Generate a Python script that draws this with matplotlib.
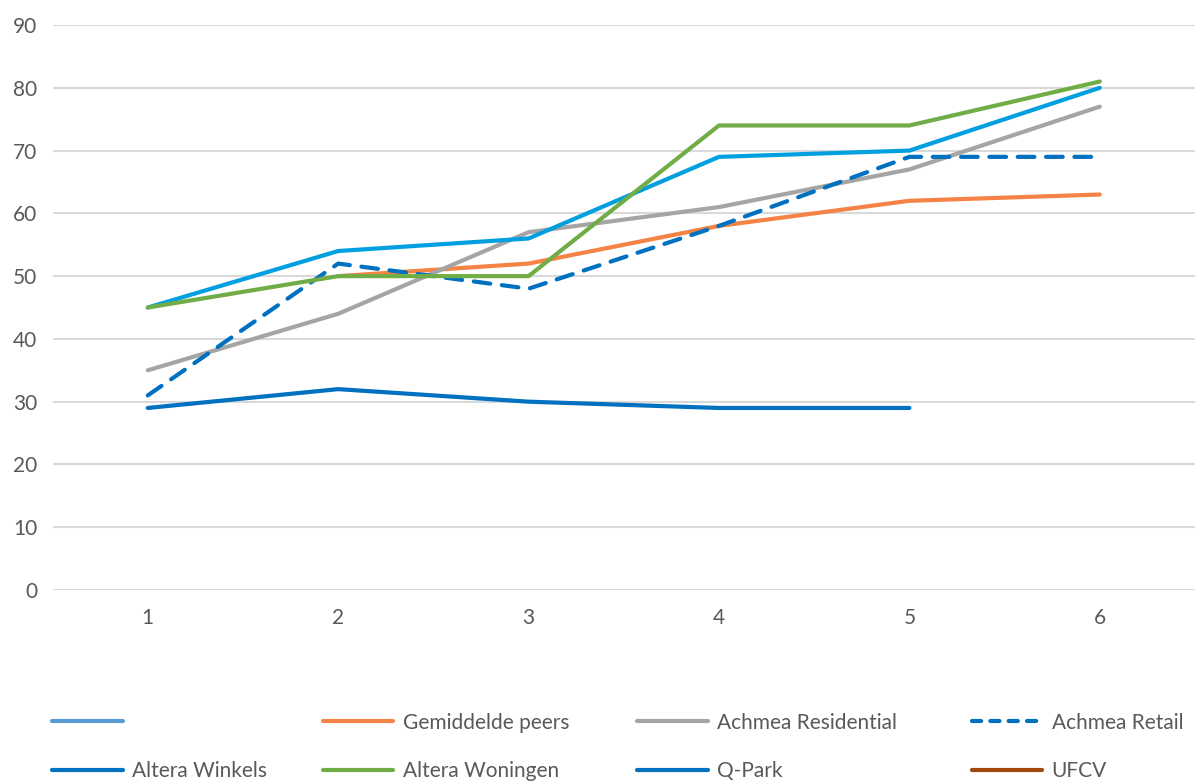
import numpy as np
from matplotlib import pyplot as plt
from matplotlib.lines import Line2D

plt.rcParams['font.family'] = ['Lato', 'DejaVu Sans']

periods = [1, 2, 3, 4, 5, 6]
nan = np.nan

eigen = [45, 54, 56, 69, 70, 80]
gemiddelde_peers = [nan, 50, 52, 58, 62, 63]
achmea_residential = [35, 44, 57, 61, 67, 77]
achmea_retail = [31, 52, 48, 58, 69, 69]
altera_winkels = [29, 32, 30, 29, 29, nan]
altera_woningen = [45, 50, 50, 74, 74, 81]
q_park = [nan, nan, nan, nan, nan, nan]
ufcv = [nan, nan, nan, nan, nan, nan]

fig = plt.figure(figsize=(11.95, 7.82), dpi=100)
ax = fig.add_axes([0.044, 0.2455, 0.956, 0.7225])

x = np.arange(len(periods))
lw = 3
ax.plot(x, gemiddelde_peers, color='#F58345', lw=lw, solid_capstyle='round')
ax.plot(x, achmea_residential, color='#A5A5A5', lw=lw, solid_capstyle='round')
ax.plot(x, altera_winkels, color='#0070C0', lw=lw, solid_capstyle='round')
ax.plot(x, q_park, color='#0070C0', lw=lw, solid_capstyle='round')
ax.plot(x, ufcv, color='#9E480E', lw=lw, solid_capstyle='round')
ax.plot(x, achmea_retail, color='#0070C0', lw=lw, dashes=(4, 2.8), dash_capstyle='round')
ax.plot(x, eigen, color='#009FDF', lw=lw, solid_capstyle='round')
ax.plot(x, altera_woningen, color='#70AD47', lw=lw, solid_capstyle='round')

ax.set_xlim(-0.5, 5.5)
ax.set_ylim(0, 90)
ax.set_yticks(range(0, 91, 10))
ax.set_xticks(x)
ax.set_xticklabels(periods)
ax.grid(axis='y', color='#D9D9D9', lw=1.5)
ax.set_axisbelow(True)
for s in ax.spines.values():
    s.set_visible(False)
ax.tick_params(length=0, labelsize=15, colors='#595959', pad=11)
ax.tick_params(axis='x', pad=13)


def h(color, dashed=False):
    if dashed:
        return Line2D([], [], color=color, lw=lw, dashes=(2.2, 2.2), dash_capstyle='round')
    return Line2D([], [], color=color, lw=lw, solid_capstyle='round')


# one small legend per column, two rows each
columns = [
    (0.0435, [h('#5B9BD5'), h('#0070C0')], ['', 'Altera Winkels']),
    (0.270, [h('#F58345'), h('#70AD47')], ['Gemiddelde peers', 'Altera Woningen']),
    (0.533, [h('#A5A5A5'), h('#0070C0')], ['Achmea Residential', 'Q-Park']),
    (0.813, [h('#0070C0', True), h('#9E480E')], ['Achmea Retail', 'UFCV']),
]
for xpos, hs, ls in columns:
    leg = fig.legend(hs, ls, loc='center left', bbox_to_anchor=(xpos, 0.045),
                     frameon=False, fontsize=15, handlelength=3.4, handletextpad=0.45,
                     labelspacing=1.35, borderpad=0, borderaxespad=0, labelcolor='#595959')

plt.savefig('out.png')
